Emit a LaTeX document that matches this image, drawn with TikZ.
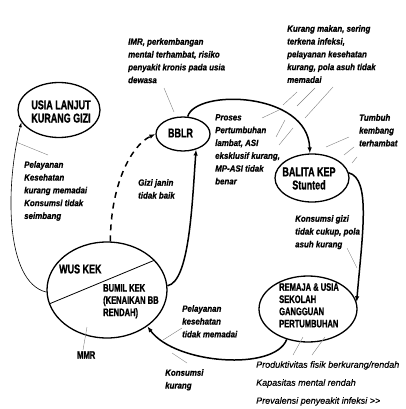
\documentclass[tikz,border=0pt]{standalone}
\usepackage{fontspec}
\setmainfont{Liberation Sans}[BoldFont={Liberation Sans Bold},ItalicFont={Liberation Sans Italic},BoldItalicFont={Liberation Sans Bold Italic}]
\newfontfamily\lblfont{Liberation Sans Bold Italic}[FakeStretch=0.88,FakeBold=0.8]
\newfontfamily\boxfont{Liberation Sans Bold}[FakeStretch=0.70,FakeBold=1.2]
\newfontfamily\outfont{Liberation Sans Italic}[Ligatures=NoCommon,FakeBold=0.5]
\usetikzlibrary{arrows.meta,shapes.geometric}
\begin{document}
\begin{tikzpicture}[x=1pt,y=-1pt,
  ell/.style={draw,ellipse,line width=1.3pt,inner sep=0pt},
  bigtxt/.style={font=\boxfont\fontsize{12.8}{13.2}\selectfont,inner sep=0pt,align=center},
  smalltxt/.style={font=\boxfont\fontsize{10.8}{12.2}\selectfont,inner sep=0pt,align=left,anchor=north west},
  lbl/.style={font=\lblfont\fontsize{9}{12.8}\selectfont,inner sep=0pt,align=left,anchor=north west},
  outcome/.style={font=\outfont\fontsize{9}{18}\selectfont,inner sep=0pt,align=left,anchor=north west},
  flow/.style={line width=1.5pt,-{Latex[length=6pt,width=4.5pt]}},
  thinflow/.style={line width=0.6pt,-{Latex[length=5pt,width=3pt]}},
  leader/.style={line width=0.4pt,gray}]
\useasboundingbox (0,0) rectangle (405,409);

% ellipses
\node[ell,minimum width=82pt,minimum height=55pt] (usia) at (59,110) {};
\node[ell,minimum width=54pt,minimum height=34pt] (bblr) at (183,134) {};
\node[ell,minimum width=74pt,minimum height=48pt] (balita) at (312,178) {};
\node[ell,minimum width=120pt,minimum height=96pt] (wus) at (107,290) {};
\node[ell,minimum width=98pt,minimum height=66pt] (remaja) at (308,309) {};

% texts inside the ellipses
\node[bigtxt] (usiaT) at (61,111.5) {USIA LANJUT\\KURANG GIZI};
\node[bigtxt] (bblrT) at (180.5,133) {BBLR};
\node[bigtxt] (balitaT) at (309,178.5) {BALITA KEP\\Stunted};
\node[bigtxt,anchor=west] (wusT) at (59,269) {WUS KEK};
\node[smalltxt] (bumilT) at (103,284) {BUMIL KEK\\(KENAIKAN BB\\RENDAH)};
\node[smalltxt] (remajaT) at (279,283) {REMAJA \& USIA\\SEKOLAH\\GANGGUAN\\PERTUMBUHAN};
\node[smalltxt,anchor=west] (mmr) at (77,355) {MMR};

% divider inside WUS KEK
\coordinate (d1) at (49,304);
\coordinate (d2) at (155,260);
\draw[line width=0.8pt] (d1) -- (d2);

% main cycle
\draw[flow] (wus.4) .. controls +(22,-4) and +(-4,55) .. (bblr.-50);
\draw[flow,dashed,dash pattern=on 6pt off 5pt] (wus.86) .. controls +(0,-55) and +(-25,12) .. (bblr.180);
\draw[flow] (bblr.75) .. controls +(8,-28) and +(-2,-62) .. (balita.95);
\draw[flow] (balita.8) .. controls +(22,6) and +(6,-70) .. (remaja.8);
\draw[flow] (remaja.235) .. controls +(-12,32) and +(28,38) .. (wus.-42);
\draw[thinflow] (wus.182) .. controls +(-42,-10) and +(-16,62) .. (usia.198);

% labels
\node[lbl] (imr) at (128,38) {IMR, perkembangan\\mental terhambat, risiko\\penyakit kronis pada usia\\dewasa};
\node[lbl] (kurang) at (287,25) {Kurang makan, sering\\terkena infeksi,\\pelayanan kesehatan\\kurang, pola asuh tidak\\memadai};
\node[lbl] (proses) at (215,114) {Proses\\Pertumbuhan\\lambat, ASI\\eksklusif kurang,\\MP-ASI tidak\\benar};
\node[lbl] (tumbuh) at (359,114) {Tumbuh\\kembang\\terhambat};
\node[lbl] (kgizi) at (295,215) {Konsumsi gizi\\tidak cukup, pola\\asuh kurang};
\node[lbl] (janin) at (138,179) {Gizi janin\\tidak baik};
\node[lbl] (pel1) at (24,161) {Pelayanan\\Kesehatan\\kurang memadai\\Konsumsi tidak\\seimbang};
\node[lbl] (pel2) at (182,305) {Pelayanan\\kesehatan\\tidak memadai};
\node[lbl] (kons) at (165,369) {Konsumsi\\kurang};
\node[outcome] (dampak) at (256,361) {Produktivitas fisik berkurang/rendah\\Kapasitas mental rendah\\Prevalensi penyeakit infeksi {>}{>}};

% leader lines
\draw[leader] (164,88) -- (174,112);
\draw[leader] (16,142) -- (48,155);
\draw[leader] (297,92) -- (283,105);
\draw[leader] (315,88) -- (297,106);
\draw[leader] (333,87) -- (305,118);
\draw[leader] (262,118) -- (279,110);
\draw[leader] (276,137) -- (285,120);
\draw[leader] (279,145) -- (293,128);
\draw[leader] (326,147) -- (349,137);
\draw[leader] (344,155) -- (354,147);
\draw[leader] (352,163) -- (357,157);
\draw[leader] (347,248) -- (357,268);
\draw[leader] (303,337) -- (293,355);
\draw[leader] (325,337) -- (312,355);
\draw[leader] (182,328) -- (163,340);
\draw[leader] (172,353) -- (187,363);
\draw[leader] (87,327) -- (83,350);
\end{tikzpicture}
\end{document}
